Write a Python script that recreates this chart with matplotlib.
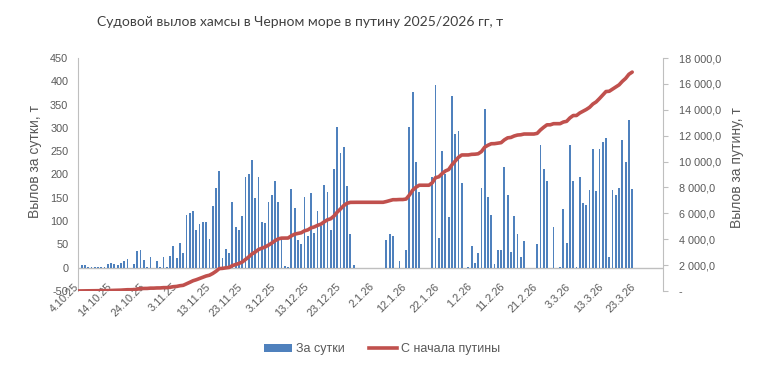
import numpy as np
import pandas as pd
import matplotlib
matplotlib.use("Agg")
import matplotlib.pyplot as plt
import matplotlib.dates as mdates
import matplotlib.transforms as mtransforms
from matplotlib.patches import Patch
from matplotlib.lines import Line2D
from matplotlib.ticker import FuncFormatter

plt.rcParams["axes.unicode_minus"] = False

# ---------------- data ----------------
start_date = "2025-10-04"
daily_catch = [
    4, 5, 5, 2, 2, 2, 2, 2, 2, 7,
    11, 7, 5, 10, 14, 18, 0, 9, 35, 39,
    16, 2, 22, 0, 14, 2, 22, 2, 26, 46,
    21, 54, 31, 114, 117, 121, 80, 93, 97, 97,
    61, 132, 170, 207, 20, 41, 31, 140, 87, 80,
    110, 194, 202, 232, 149, 194, 99, 95, 140, 157,
    185, 140, 61, 4, 2, 168, 129, 59, 50, 151,
    69, 160, 74, 121, 89, 177, 162, 80, 211, 303,
    247, 260, 175, 72, 5, 0, 0, 0, 0, 0,
    0, 0, 0, 0, 59, 72, 69, 0, 14, 0,
    37, 301, 378, 226, 162, 0, 0, 0, 194, 393,
    63, 250, 202, 108, 368, 286, 293, 181, 0, 2,
    46, 11, 31, 172, 340, 151, 114, 7, 37, 39,
    217, 155, 33, 112, 72, 22, 57, 0, 0, 0,
    50, 263, 211, 187, 0, 87, 0, 2, 127, 54,
    263, 185, 2, 194, 138, 134, 166, 254, 164, 254,
    269, 278, 22, 166, 157, 172, 273, 226, 318, 168,
]
dates = pd.date_range(start_date, periods=len(daily_catch), freq="D")
cumulative = np.cumsum(daily_catch)

tick_dates = pd.date_range(start_date, "2026-03-23", freq="10D")
tick_labels = [f"{d.day}.{d.month}.{d.year % 100}" for d in tick_dates]

title = "Судовой вылов хамсы в Черном море в путину 2025/2026 гг, т"
left_label = "Вылов за сутки, т"
right_label = "Вылов за путину, т"
legend_labels = ["За сутки", "С начала путины"]

# ---------------- style ----------------
bar_color = "#4F81BD"
line_color = "#C0504D"
text_color = "#595959"
axis_color = "#BFBFBF"
font = "Liberation Sans"

W, H = 761, 371
fig = plt.figure(figsize=(W / 100, H / 100), dpi=100)
L, R, T, B = 78, 663, 58, 291
ax = fig.add_axes([L / W, 1 - B / H, (R - L) / W, (B - T) / H])
ax2 = ax.twinx()

x = mdates.date2num(dates)
ax.bar(x, daily_catch, width=0.55, color=bar_color, linewidth=0, zorder=2)
ax.axhline(0, color=axis_color, lw=1.0, zorder=1)
ax2.plot(x, cumulative, color=line_color, lw=2.6, solid_capstyle="round", zorder=3)

x0 = mdates.date2num(pd.Timestamp(start_date))
ax.set_xlim(x0 - 0.1, x0 + 178.4)
ax.set_ylim(-50, 450)
ax.set_yticks(np.arange(-50, 451, 50))
ax2.set_ylim(0, 18000)
ax2.set_yticks(np.arange(0, 18001, 2000))

def rfmt(v, pos):
    if v == 0:
        return "-"
    return f"{int(v):,}".replace(",", " ") + ",0"
ax2.yaxis.set_major_formatter(FuncFormatter(rfmt))

ax.set_xticks(mdates.date2num(tick_dates))
ax.set_xticklabels(tick_labels, rotation=45, ha="right", va="center",
                   rotation_mode="anchor", fontsize=7.8, color=text_color,
                   family=font)
ax.tick_params(axis="x", length=0, pad=0)
shift = mtransforms.ScaledTranslation(-1 / 100, 6 / 100, fig.dpi_scale_trans)
for lab in ax.get_xticklabels():
    lab.set_transform(lab.get_transform() + shift)

ax.tick_params(axis="y", length=0, pad=7, labelsize=7.8, labelcolor=text_color)
ax2.tick_params(axis="y", length=3.5, pad=8, labelsize=7.8,
                labelcolor=text_color, color=axis_color, width=0.8)
for lab in ax.get_yticklabels() + ax2.get_yticklabels():
    lab.set_family(font)

for a in (ax, ax2):
    a.spines["top"].set_visible(False)
    a.spines["bottom"].set_visible(False)
    a.patch.set_visible(False)
ax.spines["left"].set_color(axis_color)
ax.spines["right"].set_visible(False)
ax2.spines["left"].set_visible(False)
ax2.spines["right"].set_color(axis_color)

ax.set_ylabel(left_label, fontsize=10, color=text_color, family=font)
ax.yaxis.set_label_coords((42 - L) / (R - L), (B - 162) / (B - T))
ax2.set_ylabel(right_label, fontsize=10, color=text_color, family=font,
               rotation=90)
ax2.yaxis.set_label_coords((730 - L) / (R - L), (B - 168) / (B - T))

fig.text(300 / W, 1 - 22 / H, title, ha="center", va="center",
         fontsize=10, color="#404040", family="Lato")

handles = [Patch(facecolor=bar_color, edgecolor="none"),
           Line2D([0], [0], color=line_color, lw=2.6)]
fig.legend(handles, legend_labels, loc="center",
           bbox_to_anchor=(382 / W, 1 - 349 / H), ncol=2, frameon=False,
           prop={"family": font, "size": 9}, labelcolor=text_color,
           handlelength=2.2, handleheight=0.6, columnspacing=2.0,
           handletextpad=0.3)

fig.savefig("out.png", dpi=100)
